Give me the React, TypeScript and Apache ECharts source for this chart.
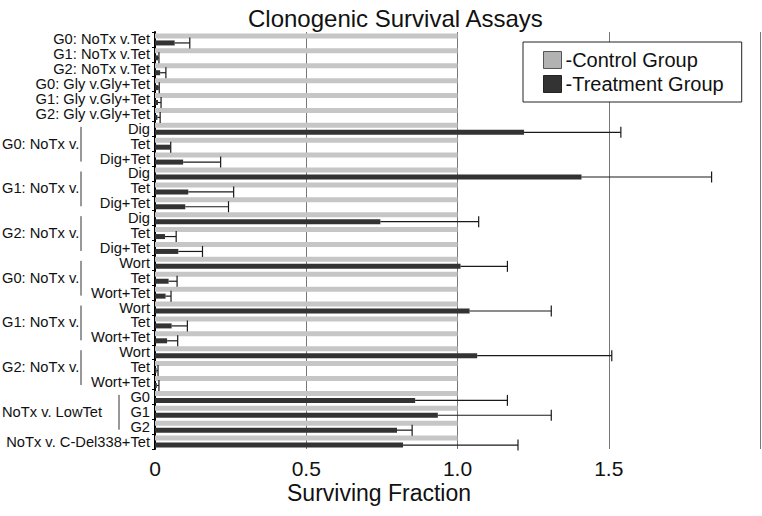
import React, { useEffect, useRef } from "react";
import * as echarts from "echarts";

const categories: string[] = [
  "G0: NoTx v.Tet",
  "G1: NoTx v.Tet",
  "G2: NoTx v.Tet",
  "G0: Gly v.Gly+Tet",
  "G1: Gly v.Gly+Tet",
  "G2: Gly v.Gly+Tet",
  "Dig", "Tet", "Dig+Tet",
  "Dig", "Tet", "Dig+Tet",
  "Dig", "Tet", "Dig+Tet",
  "Wort", "Tet", "Wort+Tet",
  "Wort", "Tet", "Wort+Tet",
  "Wort", "Tet", "Wort+Tet",
  "G0", "G1", "G2",
  "NoTx v. C-Del338+Tet",
];

const controlValues: number[] = [
  1, 1, 1, 1, 1, 1, 1, 1, 1, 1, 1, 1, 1, 1, 1, 1, 1, 1, 1, 1, 1, 1, 1, 1, 1, 1, 1, 1,
];

const treatmentValues: number[] = [
  0.065, 0.01, 0.017, 0.012, 0.01, 0.008,
  1.22, 0.05, 0.093,
  1.41, 0.11, 0.1,
  0.745, 0.033, 0.077,
  1.01, 0.045, 0.035,
  1.04, 0.055, 0.04,
  1.065, 0.005, 0.006,
  0.86, 0.935, 0.8,
  0.82,
];

const treatmentUpper: number[] = [
  0.115, 0.013, 0.036, 0.014, 0.02, 0.017,
  1.54, 0.052, 0.217,
  1.84, 0.26, 0.243,
  1.07, 0.07, 0.157,
  1.165, 0.073, 0.053,
  1.31, 0.107, 0.075,
  1.51, 0.01, 0.013,
  1.165, 1.31, 0.85,
  1.2,
];

const groupLabels: string[] = [
  "G0: NoTx v.", "G1: NoTx v.", "G2: NoTx v.",
  "G0: NoTx v.", "G1: NoTx v.", "G2: NoTx v.",
  "NoTx v. LowTet",
];
const groupStart: number[] = [6, 9, 12, 15, 18, 21, 24];
const groupEnd: number[] = [8, 11, 14, 17, 20, 23, 26];

const xTicks: number[] = [0, 0.5, 1.0, 1.5, 2.0];

const FONT = "'Liberation Sans', Arial, Helvetica, sans-serif";
const BAR_W = 5;
const BAR_GAP_PX = 2;

export default function App() {
  const ref = useRef<HTMLDivElement>(null);

  useEffect(() => {
    if (!ref.current) return;
    const chart = echarts.init(ref.current, undefined, { renderer: "svg" });

    const errData = treatmentValues.map((v, i) => [i, v, treatmentUpper[i]]);
    const groupData = groupLabels.map((g, i) => [groupStart[i], groupEnd[i], i]);
    const darkOffset = (BAR_W + BAR_GAP_PX) / 2;

    const option: any = {
      animation: false,
      backgroundColor: "#ffffff",
      textStyle: { fontFamily: FONT },
      title: [
        {
          text: "Clonogenic Survival Assays",
          left: 243,
          top: 1,
          textStyle: { fontFamily: FONT, fontSize: 24, lineHeight: 24, fontWeight: "normal", color: "#111" },
        },
        {
          text: "Surviving Fraction",
          left: 287,
          top: 482,
          padding: 0,
          textStyle: { fontFamily: FONT, fontSize: 23, lineHeight: 22, fontWeight: "normal", color: "#111" },
        },
      ],
      legend: {
        orient: "vertical",
        left: 523,
        top: 42,
        padding: [8, 18, 8, 20],
        itemWidth: 18,
        itemHeight: 17,
        itemGap: 4,
        borderColor: "#222",
        borderWidth: 1,
        backgroundColor: "#fff",
        icon: "rect",
        formatter: (name: string) => "-" + name,
        textStyle: { fontFamily: FONT, fontSize: 20, color: "#111", padding: [0, 0, 0, -1] },
        data: [
          { name: "Control Group", itemStyle: { color: "#b2b2b2", borderColor: "#555", borderWidth: 1 } },
          { name: "Treatment Group", itemStyle: { color: "#333333", borderColor: "#222", borderWidth: 1 } },
        ],
      },
      grid: { left: 155, right: 2, top: 32, bottom: 67, containLabel: false },
      xAxis: {
        type: "value",
        min: xTicks[0],
        max: xTicks[xTicks.length - 1],
        interval: xTicks[1] - xTicks[0],
        axisLine: { show: false },
        axisTick: { show: false },
        splitLine: { show: true, lineStyle: { color: "#777", width: 1 } },
        axisLabel: {
          fontFamily: FONT,
          fontSize: 21,
          lineHeight: 21,
          color: "#111",
          margin: 9,
          showMaxLabel: false,
          formatter: (v: number) => (v === 0 ? "0" : v.toFixed(1)),
        },
      },
      yAxis: {
        type: "category",
        inverse: true,
        data: categories,
        axisLine: { show: true, lineStyle: { color: "#000", width: 2 } },
        axisTick: { show: true, length: 3, lineStyle: { color: "#000" } },
        axisLabel: { interval: 0, fontFamily: FONT, fontSize: 14.7, lineHeight: 14, color: "#111", margin: 5 },
      },
      series: [
        {
          name: "Control Group",
          type: "bar",
          data: controlValues,
          barWidth: BAR_W,
          barGap: (BAR_GAP_PX / BAR_W) * 100 + "%",
          itemStyle: { color: "#c6c6c6" },
          z: 2,
        },
        {
          name: "Treatment Group",
          type: "bar",
          data: treatmentValues,
          barWidth: BAR_W,
          itemStyle: { color: "#333333" },
          z: 3,
        },
        {
          type: "custom",
          name: "err",
          data: errData,
          encode: { y: 0, x: [1, 2] },
          z: 4,
          silent: true,
          renderItem: (params: any, api: any) => {
            const idx = api.value(0);
            const v = api.value(1);
            const up = api.value(2);
            const p0 = api.coord([v, idx]);
            const p1 = api.coord([up, idx]);
            const y = p0[1] + darkOffset;
            const st = { stroke: "#1a1a1a", lineWidth: 1.2 };
            return {
              type: "group",
              children: [
                { type: "line", shape: { x1: p0[0], y1: y, x2: p1[0], y2: y }, style: st },
                { type: "line", shape: { x1: p1[0], y1: y - 5.5, x2: p1[0], y2: y + 5.5 }, style: st },
              ],
            };
          },
        },
        {
          type: "custom",
          name: "groups",
          data: groupData,
          encode: { y: [0, 1] },
          clip: false,
          z: 5,
          silent: true,
          renderItem: (params: any, api: any) => {
            const s = api.value(0);
            const e = api.value(1);
            const gi = api.value(2);
            const label = groupLabels[gi];
            const p0 = api.coord([0, s]);
            const p1 = api.coord([0, e]);
            const midY = (p0[1] + p1[1]) / 2;
            const bx = label.indexOf("LowTet") >= 0 ? 119 : 81;
            return {
              type: "group",
              children: [
                {
                  type: "text",
                  x: 2,
                  y: midY,
                  style: {
                    text: label,
                    fontFamily: FONT,
                    fontSize: 14.7,
                    fill: "#111",
                    align: "left",
                    verticalAlign: "middle",
                  },
                },
                {
                  type: "line",
                  shape: { x1: bx, y1: p0[1] - 2, x2: bx, y2: p1[1] + 3 },
                  style: { stroke: "#333", lineWidth: 1 },
                },
              ],
            };
          },
        },
      ],
    };

    chart.setOption(option);
    return () => chart.dispose();
  }, []);

  return <div ref={ref} style={{ width: 762, height: 516, position: "absolute", left: 0, top: 0 }} />;
}
